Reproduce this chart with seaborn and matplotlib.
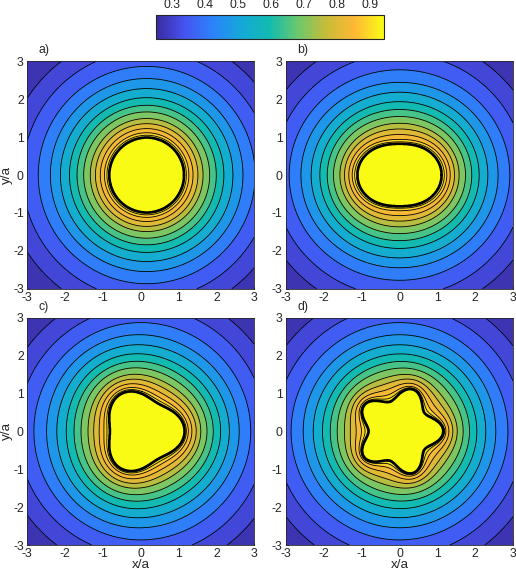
import numpy as np
import matplotlib
matplotlib.use('Agg')
import matplotlib.pyplot as plt
import seaborn as sns

# contour rings read off panel a), innermost first
ring_radii = [0.985, 1.05, 1.115, 1.225, 1.355, 1.49, 1.665, 1.84, 2.04, 2.28, 2.545, 2.865, 3.28, 3.75, 5.2]
ring_levels = [0.93, 0.90, 0.86, 0.82, 0.78, 0.72, 0.67, 0.62, 0.56, 0.50, 0.44, 0.38, 0.33, 0.29, 0.25]

# how far each ring is pushed out at the lobes, panel by panel
amp_a = [0.0] * 15
amp_b = [0.145, 0.155, 0.155, 0.135, 0.12, 0.105, 0.10, 0.09, 0.085, 0.075, 0.08, 0.07, 0.06, 0.05, 0.03]
amp_c = [0.14, 0.125, 0.11, 0.095, 0.08, 0.065, 0.055, 0.045, 0.04, 0.03, 0.025, 0.01, 0.0, 0.0, 0.0]
amp_d = [0.17, 0.14, 0.11, 0.08, 0.055, 0.035, 0.018, 0.01, 0.004, 0.0, 0.0, 0.0, 0.0, 0.0, 0.0]

panel_labels = ['a)', 'b)', 'c)', 'd)']
panel_shift = [0.155, 0.0, 0.03, 0.0]
panel_mode = [0, 2, 3, 5]
panel_mean = [0.0, -0.02, 0.0, 0.0]
panel_amp = [amp_a, amp_b, amp_c, amp_d]
panel_box = [(27.3, 61.3), (286, 61.3), (27.3, 317.5), (286, 317.5)]

axis_ticks = [-3, -2, -1, 0, 1, 2, 3]
colorbar_ticks = [0.3, 0.4, 0.5, 0.6, 0.7, 0.8, 0.9]
color_keys = ['#3b2ba0', '#4553f0', '#2b84fb', '#15a8d8', '#12bbb0',
              '#6cc86c', '#c8bc38', '#feb835', '#f9fb15']

sns.set_style('ticks')
plt.rcParams['font.family'] = ['Liberation Sans', 'DejaVu Sans']
plt.rcParams['axes.unicode_minus'] = False

W, H = 516, 570
cmap = sns.blend_palette(color_keys, n_colors=256, as_cmap=True)
norm = plt.Normalize(0.25, 0.94)
dark = '#262626'

fig = plt.figure(figsize=(W / 100, H / 100), dpi=100)

x = np.linspace(-3, 3, 801)
X, Y = np.meshgrid(x, x)
lev_up = np.array(ring_levels[::-1])
lev_fill = np.append(lev_up, 1.0)


def field(shift, mode, mean, amp):
    """Look up the level table at the undeformed ring radius of every grid point."""
    dx = X - shift
    r = np.hypot(dx, Y)
    th = np.arctan2(Y, dx)
    rho = r.copy()
    for _ in range(30):
        rho = r - mean - np.interp(rho, ring_radii, amp) * np.cos(mode * th)
    return np.interp(rho, ring_radii, ring_levels, left=0.97, right=0.25)


for i, label in enumerate(panel_labels):
    left, top = panel_box[i]
    ax = fig.add_axes([left / W, 1 - (top + 227.5) / H, 227 / W, 227.5 / H])
    Z = field(panel_shift[i], panel_mode[i], panel_mean[i], panel_amp[i])
    ax.contourf(X, Y, Z, levels=lev_fill, cmap=cmap, norm=norm)
    ax.contour(X, Y, Z, levels=lev_up[1:-1], colors='black', linewidths=0.6)
    ax.contour(X, Y, Z, levels=[lev_up[-1]], colors='black', linewidths=1.9)

    ax.set_xlim(-3, 3)
    ax.set_ylim(-3, 3)
    ax.set_xticks(axis_ticks)
    ax.set_yticks(axis_ticks)
    ax.tick_params(direction='in', length=2.2, width=0.5, color=dark,
                   labelcolor=dark, labelsize=8.8, pad=2.5)
    for side in ax.spines.values():
        side.set_linewidth(0.6)
        side.set_color(dark)
    if i in (0, 2):
        ax.set_ylabel('y/a', fontsize=9.6, color=dark, labelpad=0)
    if i in (2, 3):
        ax.set_xlabel('x/a', fontsize=9.6, color=dark, labelpad=-1)
    ax.text(0.05, 1.048, label, transform=ax.transAxes, fontsize=8.8,
            color=dark, va='center', ha='left')

cax = fig.add_axes([156 / W, 1 - 39.3 / H, 227.5 / W, 24.6 / H])
sm = plt.cm.ScalarMappable(norm=norm, cmap=cmap)
cb = fig.colorbar(sm, cax=cax, orientation='horizontal', ticks=colorbar_ticks)
cb.ax.xaxis.set_ticks_position('top')
cb.ax.set_xticklabels([f'{t:.1f}' for t in colorbar_ticks])
cb.ax.tick_params(direction='in', length=2.2, width=0.5, color=dark,
                  labelcolor=dark, labelsize=8.8, pad=2.5)
cb.outline.set_linewidth(0.8)
cb.outline.set_edgecolor(dark)

fig.savefig('out.png', dpi=100)
